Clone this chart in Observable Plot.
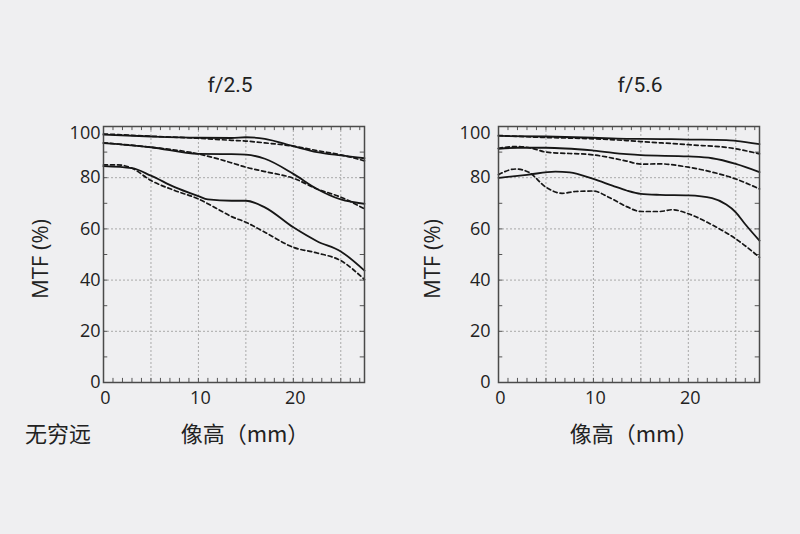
<!DOCTYPE html>
<html>
<head>
<meta charset="utf-8">
<script src="https://cdn.jsdelivr.net/npm/d3@7"></script>
<script src="https://cdn.jsdelivr.net/npm/@observablehq/plot@0.6"></script>
<style>
  html, body { margin: 0; padding: 0; background: #efeff1; }
  #wrap { position: relative; width: 800px; height: 534px; background: #efeff1; overflow: hidden; }
  .panel { position: absolute; top: 0; width: 400px; height: 534px; }
  .lbl { position: absolute; white-space: nowrap; color: #222; transform: translate(-50%, -50%); }
  .title { font-family: "Liberation Sans Narrow", "Roboto", "Open Sans", sans-serif; font-size: 21px; }
  .ylab { font-family: "Open Sans", "Noto Sans", sans-serif; font-size: 22px; transform: translate(-50%, -50%) rotate(-90deg); }
  .cjk { font-family: "Noto Sans CJK SC", sans-serif; font-size: 22px; }
</style>
</head>
<body>
<div id="wrap">
  <div class="panel" id="p1" style="left:0"></div>
  <div class="panel" id="p2" style="left:400px"></div>
  <div class="lbl title" style="left:230px; top:85px">f/2.5</div>
  <div class="lbl title" style="left:640px; top:85px">f/5.6</div>
  <div class="lbl ylab" style="left:39px; top:259px">MTF (%)</div>
  <div class="lbl ylab" style="left:431px; top:259px">MTF (%)</div>
  <div class="lbl cjk" style="left:58px; top:432px">无穷远</div>
  <div class="lbl cjk" style="left:245px; top:432px">像高（mm）</div>
  <div class="lbl cjk" style="left:634px; top:432px">像高（mm）</div>
</div>
<script>
// ---- tick labels ----
const xTicks = [0, 10, 20];
const yTicks = [0, 20, 40, 60, 80];
const yTopTick = [100];
const xGrid = [5, 10, 15, 20, 25];
const yGrid = [20, 40, 60, 80];
const xMinor = d3.range(0, 28);
const yMinor = [10, 20, 30, 40, 50, 60, 70, 80, 90];

// ---- f/2.5 series: [image height mm, MTF %] ----
const f25TopSolid = [[0,96.8],[5,96.1],[10,95.6],[13.5,95.5],[15,95.8],[17,95.2],[20,92.3],[22.5,90],[25,88.7],[27.5,87.6]];
const f25TopDash  = [[0,97.1],[5,96.2],[10,95.4],[13.5,94.6],[15,94.3],[17,93.6],[20,92.3],[22.5,90.6],[25,88.9],[27.5,86.6]];
const f25MidSolid = [[0,93.5],[5,91.9],[10,89.3],[13.5,89.2],[15,89.0],[17,87.4],[20,81.5],[22.5,75.6],[25,71.5],[27.5,69.8]];
const f25MidDash  = [[0,93.6],[5,91.9],[10,89.3],[13.5,85.8],[15,84.1],[17,82.4],[20,79.8],[22.5,75.6],[25,72.4],[27.5,67.8]];
const f25BotSolid = [[0,84.5],[3,83.7],[5,80.8],[7.5,76.3],[10,72.8],[11,71.5],[13.5,71.0],[15,71.0],[17,68.4],[20,60.6],[22.5,55.2],[25,51.2],[27.5,43.7]];
const f25BotDash  = [[0,85.0],[1.5,85.0],[3,83.7],[5,78.9],[7.5,75],[10,71.7],[12,67.8],[13.5,64.8],[15,62.6],[17,58.7],[20,52.8],[22.5,50.6],[25,47.6],[27.5,40.2]];

// ---- f/5.6 series ----
const f56TopSolid = [[0,96.3],[5,96.1],[10,95.6],[13.5,95.2],[15,95.2],[20,94.9],[24,94.7],[25,94.4],[27.5,93.1]];
const f56TopDash  = [[0,96.5],[5,95.7],[10,95.2],[13.5,94.5],[15,94.1],[20,92.9],[25,91.3],[27.5,89.3]];
const f56MidSolid = [[0,91.3],[2,91.7],[5,91.7],[10,90.6],[13.5,89.2],[15,88.8],[20,88.3],[22.5,87.6],[25,85.4],[27.5,82.2]];
const f56MidDash  = [[0,91.5],[2,92.2],[3.5,91.5],[5,90],[10,88.9],[13.5,86.5],[15,85.3],[17,85.4],[20,84.1],[22.5,82.2],[25,79.5],[27.5,75.6]];
const f56BotSolid = [[0,79.9],[3,81.1],[6,82.4],[7.5,82.1],[10,79.5],[12,76.9],[13.5,75.0],[15,73.7],[17,73.3],[20,73.1],[22.5,72.0],[24,69.5],[25,66.5],[26,61.8],[27.5,55.4]];
const f56BotDash  = [[0,81.2],[1.8,83.4],[3.2,82.1],[5,76.3],[6.7,73.9],[8.1,74.6],[10,74.8],[11.6,72.4],[13.5,68.7],[15,66.8],[17,66.8],[18.3,67.5],[20,65.9],[22.5,61.6],[25,56.1],[27.5,48.9]];

function panel(solids, dashes, mL, mR, pad) {
  const lineOpts = {x: d => d[0], y: d => d[1], stroke: "#161616", strokeWidth: 1.8, curve: "monotone-x"};
  const marks = [
    Plot.ruleX(xGrid, {stroke: "#a9a9a9", strokeWidth: 1, strokeDasharray: "2,2"}),
    Plot.ruleY(yGrid, {stroke: "#a9a9a9", strokeWidth: 1, strokeDasharray: "2,2"}),
    Plot.ruleX(xMinor, {x: d => d, y1: 0, y2: 1.6, stroke: "#555", strokeWidth: 1}),
    Plot.ruleX(xMinor, {x: d => d, y1: 100, y2: 98.4, stroke: "#555", strokeWidth: 1}),
    Plot.ruleY(yMinor, {y: d => d, x1: 0, x2: 0.45, stroke: "#555", strokeWidth: 1}),
    Plot.ruleY(yMinor, {y: d => d, x1: 27.5, x2: 27.05, stroke: "#555", strokeWidth: 1}),
    ...solids.map(s => Plot.line(s, lineOpts)),
    ...dashes.map(s => Plot.line(s, {...lineOpts, strokeWidth: 1.7, strokeDasharray: "4,3"})),
    Plot.frame({stroke: "#4a4a4a", strokeWidth: 1.5}),
    Plot.axisX(xTicks, {tickSize: 0, tickPadding: 9, label: null, fontSize: 18, dx: 2}),
    Plot.axisY(yTicks, {tickSize: 0, tickPadding: pad, label: null, fontSize: 18}),
    Plot.axisY(yTopTick, {tickSize: 0, tickPadding: pad, label: null, fontSize: 18, dy: 7})
  ];
  return Plot.plot({
    width: 400, height: 534,
    marginLeft: mL, marginRight: mR, marginTop: 126, marginBottom: 152,
    style: {background: "transparent", fontFamily: "'Open Sans', 'Noto Sans', sans-serif", fontSize: "18px", color: "#222"},
    x: {domain: [0, 27.5]},
    y: {domain: [0, 100]},
    marks
  });
}

document.getElementById("p1").appendChild(
  panel([f25TopSolid, f25MidSolid, f25BotSolid], [f25TopDash, f25MidDash, f25BotDash], 103, 36, 3)
);
document.getElementById("p2").appendChild(
  panel([f56TopSolid, f56MidSolid, f56BotSolid], [f56TopDash, f56MidDash, f56BotDash], 98, 41, 8)
);
</script>
</body>
</html>
